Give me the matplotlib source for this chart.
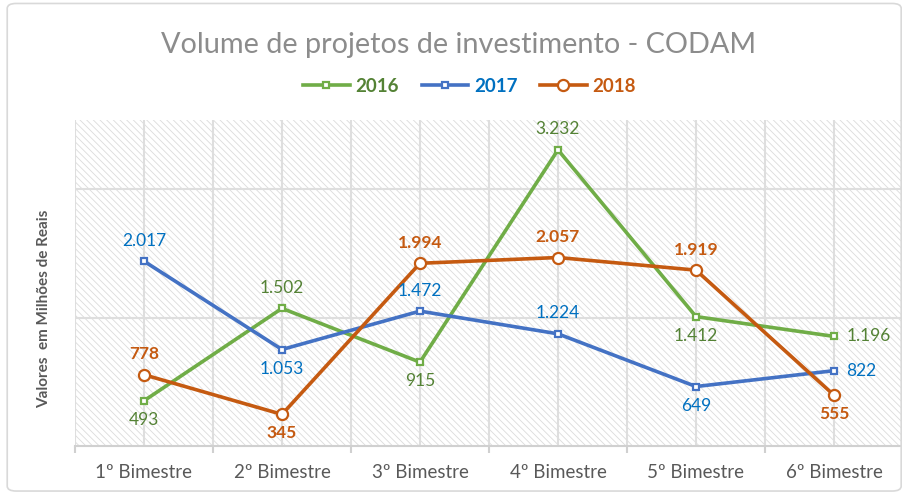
import numpy as np
import matplotlib
matplotlib.use('Agg')
from matplotlib import pyplot as plt
from matplotlib.patches import Rectangle, FancyBboxPatch

categories = ['1º Bimestre', '2º Bimestre', '3º Bimestre', '4º Bimestre', '5º Bimestre', '6º Bimestre']
v2016 = [493, 1502, 915, 3232, 1412, 1196]
v2017 = [2017, 1053, 1472, 1224, 649, 822]
v2018 = [778, 345, 1994, 2057, 1919, 555]

# label placement per point: 'a' above, 'b' below, 'r' right
pos2016 = ['b', 'a', 'b', 'a', 'b', 'r']
pos2017 = ['a', 'b', 'a', 'a', 'b', 'r']
pos2018 = ['a', 'b', 'a', 'a', 'a', 'b']

plt.rcParams['font.family'] = ['Lato', 'DejaVu Sans']
plt.rcParams['hatch.linewidth'] = 0.6
plt.rcParams['hatch.color'] = '#dcdcdc'


def fmt(v):
    return f'{v:,}'.replace(',', '.')


fig = plt.figure(figsize=(9.03, 4.95), dpi=100)
ax = fig.add_axes([0.083, 0.099, 0.917, 0.659])

x = np.arange(len(categories))
ax.set_xlim(-0.5, len(categories) - 0.5)
ax.set_ylim(0, 3560)

bg = Rectangle((-0.5, 0), len(categories), 3560, facecolor='white', edgecolor='#dcdcdc',
               hatch='\\' * 5, lw=0, zorder=0)
ax.add_patch(bg)

grid_c = '#dedede'
for yy in [1400, 2800]:
    ax.axhline(yy, color=grid_c, lw=1.5, zorder=1)
for xx in np.arange(-0.5, len(categories), 0.5):
    ax.axvline(xx, color=grid_c, lw=1.5, zorder=1)

series = [
    (v2016, pos2016, '#70AD47', '#548235', 's', 4.5, 'normal', '2016'),
    (v2017, pos2017, '#4472C4', '#0070C0', 's', 4.5, 'normal', '2017'),
    (v2018, pos2018, '#C55A11', '#C55A11', 'o', 8, 'bold', '2018'),
]

handles = []
for vals, pos, lc, tc, mk, ms, fw, name in series:
    h, = ax.plot(x, vals, color=lc, lw=2.6, marker=mk, ms=ms, mfc='white', mec=lc,
                 mew=1.6, zorder=3, label=name)
    handles.append(h)
    for xi, v, p in zip(x, vals, pos):
        if p == 'a':
            ax.annotate(fmt(v), (xi, v), xytext=(0, 9), textcoords='offset points',
                        ha='center', va='bottom', color=tc, fontsize=12.5, fontweight=fw, zorder=4)
        elif p == 'b':
            ax.annotate(fmt(v), (xi, v), xytext=(0, -8), textcoords='offset points',
                        ha='center', va='top', color=tc, fontsize=12.5, fontweight=fw, zorder=4)
        else:
            ax.annotate(fmt(v), (xi, v), xytext=(9, 0), textcoords='offset points',
                        ha='left', va='center', color=tc, fontsize=12.5, fontweight=fw, zorder=4)

for s in ['top', 'right', 'left']:
    ax.spines[s].set_visible(False)
ax.spines['bottom'].set_color('#d0d0d0')
ax.spines['bottom'].set_linewidth(1.5)
ax.set_yticks([])
ax.set_xticks(np.arange(-0.5, len(categories), 1.0))
ax.set_xticklabels([])
ax.set_xticks(x, minor=True)
ax.set_xticklabels(categories, minor=True)
ax.tick_params(axis='x', which='major', length=5, width=1.5, color='#d0d0d0')
ax.tick_params(axis='x', which='minor', length=0, pad=13, labelsize=13.5, labelcolor='#595959')

ax.set_ylabel('Valores  em Milhões de Reais', fontsize=11, fontweight='bold', color='#595959')
ax.yaxis.set_label_coords(-0.029, 0.42)

fig.text(0.508, 0.91, 'Volume de projetos de investimento - CODAM', ha='center', va='center',
         fontsize=20.8, color='#8c8c8c')

leg = fig.legend(handles=handles, loc='center', bbox_to_anchor=(0.52, 0.826), ncol=3,
                 frameon=False, fontsize=13.5, handlelength=2.5, columnspacing=1.2, handletextpad=0.3)
for t, (_, _, _, tc, _, _, _, _) in zip(leg.get_texts(), series):
    t.set_color(tc)
    t.set_fontweight('bold')

border = FancyBboxPatch((0.008, 0.008), 0.99, 0.985, boxstyle='round,pad=0,rounding_size=0.01',
                        transform=fig.transFigure, facecolor='none', edgecolor='#d9d9d9', lw=1.2)
fig.patches.append(border)

fig.savefig('out.png', dpi=100)
